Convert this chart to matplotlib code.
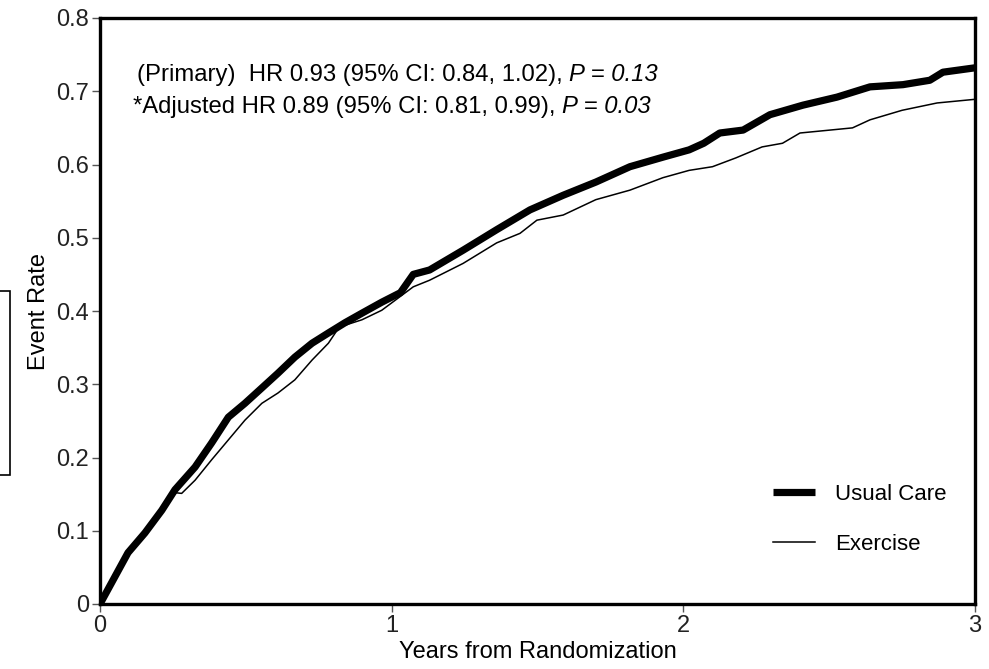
import numpy as np
import matplotlib
matplotlib.use('Agg')
from matplotlib import pyplot as plt
from matplotlib.patches import Rectangle

plt.rcParams['font.family'] = ['Liberation Sans', 'DejaVu Sans']

# years from randomization / event rate
usual_t = [0, 0.096, 0.154, 0.212, 0.257, 0.326, 0.383, 0.44, 0.497, 0.555, 0.61,
           0.668, 0.727, 0.783, 0.84, 0.898, 0.966, 1.03, 1.074, 1.13, 1.245, 1.36,
           1.474, 1.588, 1.70, 1.817, 1.93, 2.02, 2.07, 2.125, 2.205, 2.297, 2.41,
           2.527, 2.64, 2.753, 2.845, 2.89, 3.0]
usual_v = [0, 0.070, 0.097, 0.128, 0.156, 0.187, 0.220, 0.255, 0.274, 0.295, 0.315,
           0.337, 0.356, 0.370, 0.384, 0.397, 0.412, 0.425, 0.450, 0.456, 0.483, 0.511,
           0.538, 0.558, 0.576, 0.597, 0.610, 0.620, 0.629, 0.643, 0.647, 0.668, 0.681,
           0.692, 0.706, 0.709, 0.715, 0.726, 0.732]

exer_t = [0, 0.096, 0.154, 0.212, 0.257, 0.28, 0.326, 0.383, 0.44, 0.497, 0.555,
          0.61, 0.668, 0.727, 0.783, 0.82, 0.898, 0.966, 1.074, 1.13, 1.245, 1.36,
          1.44, 1.498, 1.588, 1.70, 1.817, 1.93, 2.02, 2.10, 2.18, 2.27, 2.34, 2.40,
          2.58, 2.64, 2.75, 2.87, 3.0]
exer_v = [0, 0.068, 0.095, 0.125, 0.152, 0.151, 0.169, 0.197, 0.224, 0.251, 0.274,
          0.288, 0.306, 0.333, 0.356, 0.378, 0.388, 0.401, 0.433, 0.442, 0.465, 0.493,
          0.506, 0.524, 0.531, 0.552, 0.565, 0.582, 0.592, 0.597, 0.609, 0.624, 0.629, 0.643,
          0.650, 0.661, 0.674, 0.684, 0.689]

xticks = [0, 1, 2, 3]
yticks = [0, 0.1, 0.2, 0.3, 0.4, 0.5, 0.6, 0.7, 0.8]
ylabels = ['0', '0.1', '0.2', '0.3', '0.4', '0.5', '0.6', '0.7', '0.8']

W, H = 989, 669
fig = plt.figure(figsize=(W/100, H/100), dpi=100)
ax = fig.add_axes([100/W, 1-604/H, 875/W, 586/H])

ax.plot(usual_t, usual_v, color='black', lw=5.2, solid_capstyle='butt', label='Usual Care')
ax.plot(exer_t, exer_v, color='black', lw=1.1, label='Exercise')

ax.set_xlim(0, 3)
ax.set_ylim(0, 0.8)
ax.set_xticks(xticks)
ax.set_xticklabels([str(x) for x in xticks])
ax.set_yticks(yticks)
ax.set_yticklabels(ylabels)
ax.tick_params(direction='out', length=6, width=1, colors='#555555', labelsize=17,
               labelcolor='#222222', pad=2)
for s in ax.spines.values():
    s.set_linewidth(2.4)

ax.set_xlabel('Years from Randomization', fontsize=17, labelpad=3)
ax.set_ylabel('Event Rate', fontsize=17, labelpad=4)

# HR annotations, upright part then italic P value
t1 = fig.text(137/W, 1-75/H, '(Primary)  HR 0.93 (95% CI: 0.84, 1.02), ',
              fontsize=17.2, va='center', ha='left')
ax.annotate('P = 0.13', xy=(1, 0), xycoords=t1, va='bottom', ha='left',
            fontsize=17.2, fontstyle='italic')
t2 = fig.text(133/W, 1-107/H, '*Adjusted HR 0.89 (95% CI: 0.81, 0.99), ',
              fontsize=17.2, va='center', ha='left')
ax.annotate('P = 0.03', xy=(1, 0), xycoords=t2, va='bottom', ha='left',
            fontsize=17.2, fontstyle='italic')

ax.legend(loc='lower right', bbox_to_anchor=(0.99, 0.05), frameon=False, fontsize=16,
          handlelength=1.9, labelspacing=1.3, handletextpad=0.9)

# stray box at left edge of the page
fig.patches.append(Rectangle((-0.05, 1-475/H), 0.05+10/W, (475-291)/H,
                             transform=fig.transFigure, fill=False, lw=1.2,
                             edgecolor='black', figure=fig))

fig.savefig('out.png', dpi=100)
